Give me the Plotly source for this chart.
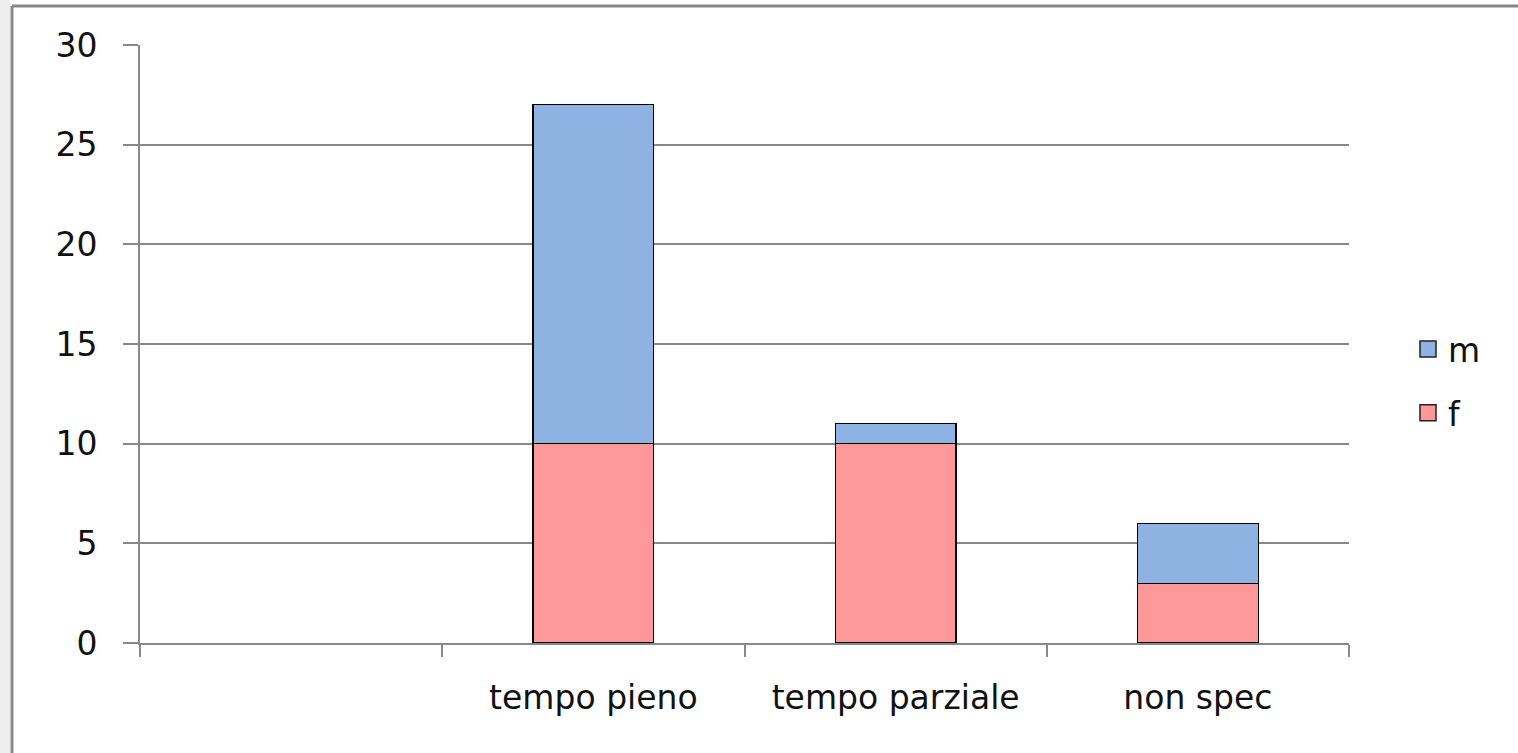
import plotly.graph_objects as go

categories = ["", "tempo pieno", "tempo parziale", "non spec"]
f_values = [None, 10, 10, 3]
m_values = [None, 17, 1, 3]
y_ticks = [0, 5, 10, 15, 20, 25, 30]

x_pos = list(range(len(categories)))
FONT = "DejaVu Sans"
M_COLOR = "#8EB2E2"
F_COLOR = "#FF9999"

fig = go.Figure()
fig.add_trace(go.Bar(x=x_pos, y=f_values, name="f", width=0.4, showlegend=False,
                     marker=dict(color=F_COLOR, line=dict(color="black", width=1.2))))
fig.add_trace(go.Bar(x=x_pos, y=m_values, name="m", width=0.4, showlegend=False,
                     marker=dict(color=M_COLOR, line=dict(color="black", width=1.2))))
# legend entries (large square keys)
for name, col in [("m", M_COLOR), ("f", F_COLOR)]:
    fig.add_trace(go.Scatter(x=[None], y=[None], mode="markers", name=name, legendgroup=name,
                             marker=dict(symbol="square", size=20, color=col,
                                         line=dict(color="#222222", width=1.5))))

W, H = 1518, 753
L, R, T, B = 140, 1349, 45, 643
pw, ph = R - L, B - T

def px(x):
    return (x - L) / pw

def py(y):
    return (B - y) / ph

shapes = [
    dict(type="rect", xref="paper", yref="paper", x0=px(0), x1=px(10), y0=py(753), y1=py(0),
         fillcolor="#EEEEEE", line=dict(width=0), layer="below"),
    dict(type="line", xref="paper", yref="paper", x0=px(12), x1=px(12), y0=py(753), y1=py(6),
         line=dict(color="#888888", width=3)),
    dict(type="line", xref="paper", yref="paper", x0=px(12), x1=px(1518), y0=py(6), y1=py(6),
         line=dict(color="#888888", width=3)),
]

fig.update_layout(
    width=W, height=H,
    margin=dict(l=L, r=W - R, t=T, b=H - B, pad=0),
    barmode="stack",
    plot_bgcolor="white", paper_bgcolor="white",
    font=dict(family=FONT, size=33, color="#111111"),
    showlegend=True,
    legend=dict(x=px(1408), y=py(381), xanchor="left", yanchor="middle",
                font=dict(size=33), itemsizing="trace", tracegroupgap=18,
                bgcolor="rgba(0,0,0,0)", itemwidth=30),
    shapes=shapes,
    xaxis=dict(range=[-0.5, len(categories) - 0.5], tickvals=x_pos, ticktext=categories,
               ticks="", showgrid=False, zeroline=False, showline=True,
               linecolor="#888888", linewidth=2, ticklabelstandoff=24,
               minor=dict(tickmode="array", tickvals=[-0.5, 0.5, 1.5, 2.5, 3.5],
                          ticks="outside", ticklen=12, tickcolor="#888888", tickwidth=2,
                          showgrid=False),
               fixedrange=True),
    yaxis=dict(range=[0, 30], tickvals=y_ticks, ticks="outside", ticklen=15,
               tickcolor="#888888", tickwidth=2, showgrid=True, gridcolor="#888888",
               gridwidth=1.5, zeroline=False, showline=True, linecolor="#888888",
               linewidth=2, ticklabelstandoff=19, fixedrange=True),
)

fig.write_html("out.html", config={"displayModeBar": False},
               post_script="document.body.style.margin='0';document.body.style.overflow='hidden';")
